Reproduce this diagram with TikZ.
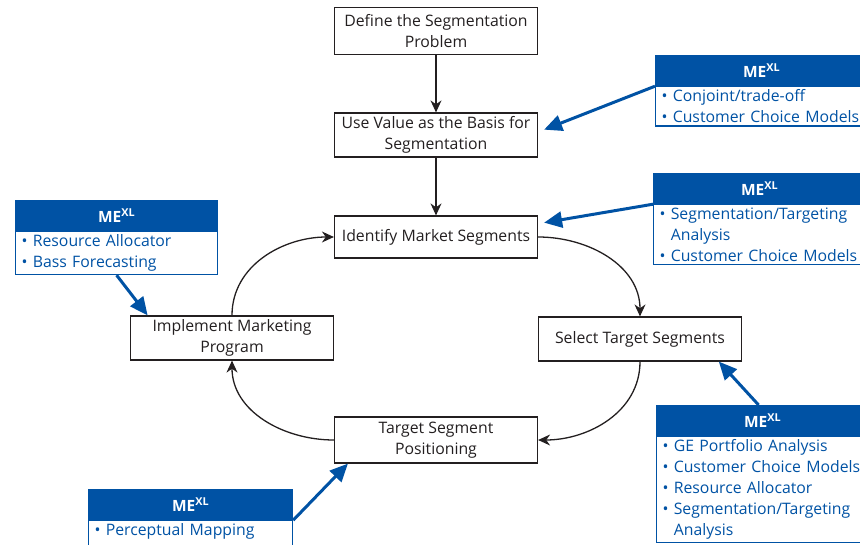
\documentclass[tikz,border=0pt]{standalone}
\usepackage{fontspec}
\setmainfont{Open Sans}
\usepackage{tikz}
\usetikzlibrary{arrows.meta,positioning}
\definecolor{meblue}{RGB}{0,82,164}
\definecolor{boxline}{RGB}{35,31,32}

\newcommand{\mebul}{\textbullet\ }
\newcommand{\mehang}{\hphantom{\textbullet\ }}

\tikzset{
  stepbox/.style={draw=boxline, line width=1.2pt, minimum width=203pt, minimum height=44pt,
    inner sep=2pt, align=center, font=\fontsize{15.8}{21}\selectfont, text=boxline},
  mehead/.style={fill=meblue, draw=meblue, line width=1.2pt, minimum width=205pt, minimum height=30pt,
    inner sep=0pt, anchor=north west, text=white, font=\bfseries\fontsize{15.5}{16}\selectfont},
  mebody/.style={draw=meblue, line width=1.2pt, text width=193pt, inner xsep=6pt, inner ysep=3pt,
    anchor=north west, align=left, text=meblue, font=\fontsize{15.8}{21}\selectfont},
  flow/.style={-{Stealth[length=12pt,width=11pt]}, line width=1.3pt, boxline},
  tool/.style={-{Triangle[length=18pt,width=16pt]}, line width=3pt, meblue}
}

\begin{document}
\begin{tikzpicture}[x=1pt,y=-1pt]
  \useasboundingbox (0,0) rectangle (860,544);
  \clip (0,0) rectangle (860,544);

  % segmentation steps
  \node[stepbox, minimum height=47pt] (define) at (436,31) {Define the Segmentation\\Problem};
  \node[stepbox] (usevalue) at (436,135) {Use Value as the Basis for\\Segmentation};
  \node[stepbox, minimum height=42pt] (identify) at (436,237) {Identify Market Segments};
  \node[stepbox] (select) at (640,339) {Select Target Segments};
  \node[stepbox, minimum height=46pt] (position) at (436,440) {Target Segment\\Positioning};
  \node[stepbox] (implement) at (232,338) {Implement Marketing\\Program};

  \draw[flow] (define) -- (usevalue);
  \draw[flow] (usevalue) -- (identify);
  \draw[flow] (identify.east) to[out=0, in=90] (select.north);
  \draw[flow] (select.south) to[out=-90, in=0] (position.east);
  \draw[flow] (position.west) to[out=180, in=-90] (implement.south);
  \draw[flow] (implement.north) to[out=90, in=180] (identify.west);

  % ME-XL boxes (right ones run past the page edge)
  \node[mehead, minimum width=212pt] (mehA) at (655,55) {ME\textsuperscript{XL}};
  \node[mebody, text width=200pt] (mebA) at (mehA.south west) {\mebul Conjoint/trade-off\\\mebul Customer Choice Models};

  \node[mehead, minimum width=212pt] (mehB) at (653,173) {ME\textsuperscript{XL}};
  \node[mebody, text width=200pt] (mebB) at (mehB.south west) {\mebul Segmentation/Targeting\\\mehang Analysis\\\mebul Customer Choice Models};

  \node[mehead, minimum width=202pt] (mehC) at (15,200) {ME\textsuperscript{XL}};
  \node[mebody, text width=190pt] (mebC) at (mehC.south west) {\mebul Resource Allocator\\\mebul Bass Forecasting};

  \node[mehead, minimum width=212pt] (mehD) at (656,405) {ME\textsuperscript{XL}};
  \node[mebody, text width=200pt] (mebD) at (mehD.south west) {\mebul GE Portfolio Analysis\\\mebul Customer Choice Models\\\mebul Resource Allocator\\\mebul Segmentation/Targeting\\\mehang Analysis};

  \node[mehead, minimum width=204pt] (mehE) at (88,489) {ME\textsuperscript{XL}};
  \node[mebody, text width=192pt, text depth=30pt] (mebE) at (mehE.south west) {\mebul Perceptual Mapping};

  % tool links
  \draw[tool] (mehA.south west) -- ([xshift=6pt]usevalue.3);
  \draw[tool] (mehB.south west) -- ([xshift=6pt]identify.8);
  \draw[tool] (mebC.south) -- (implement.165);
  \draw[tool] ([xshift=-4pt]mehD.north) -- (select.-16);
  \draw[tool] (mehE.south east) -- (position.-165);
\end{tikzpicture}
\end{document}
